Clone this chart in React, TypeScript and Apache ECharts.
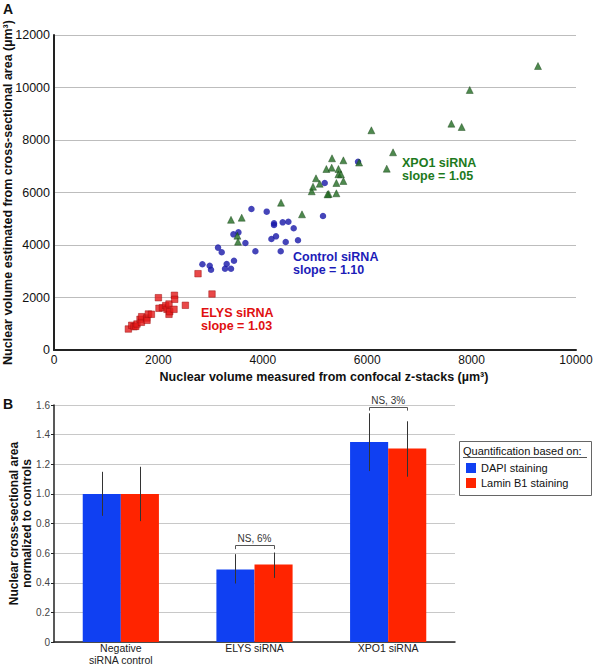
import React, { useEffect, useRef } from "react";
import * as echarts from "echarts";

// ---- Panel A: scatter data [measured volume, estimated volume] (µm³) ----
const elysPoints: number[][] = [
  [1425, 800], [1489, 941], [1533, 888], [1567, 902], [1590, 990], [1648, 1169],
  [1674, 1055], [1680, 1269], [1776, 1219], [1782, 1131], [1808, 1371], [1866, 1360],
  [2000, 1992], [2011, 1589], [2077, 1611], [2140, 1688], [2165, 1550], [2203, 1752],
  [2203, 1360], [2217, 1459], [2299, 1550], [2307, 2084], [2312, 1931], [2517, 1703],
  [2759, 2907], [3027, 2133],
];
const controlPoints: number[][] = [
  [2843, 3265], [2983, 3211], [3008, 3059], [3142, 3900], [3213, 3722], [3276, 3097],
  [3308, 3276], [3391, 3097], [3448, 3402], [3437, 4407], [3533, 4483], [3667, 4076],
  [3782, 5370], [3858, 3760], [4075, 5269], [4165, 4229], [4215, 4826], [4215, 4762],
  [4253, 4331], [4343, 3760], [4381, 4864], [4490, 4888], [4439, 4114], [4592, 4636],
  [4674, 4179], [5153, 5105], [5186, 6362], [5824, 7173],
];
const xpo1Points: number[][] = [
  [3391, 4960], [3596, 5040], [3513, 4354], [3525, 4126], [4349, 5611], [4751, 5169],
  [4937, 6046], [4962, 6221], [5019, 6541], [5090, 6335], [5218, 6895], [5262, 5943],
  [5240, 5930], [5320, 6945], [5326, 7303], [5410, 6362], [5410, 5970], [5449, 6895],
  [5448, 6693], [5498, 6693], [5544, 7226], [5544, 6438], [5845, 7140], [6080, 8370],
  [6374, 6907], [6495, 7531], [7613, 8621], [7810, 8495], [7964, 9905], [9272, 10819],
];

// ---- Panel B: bar data ----
const barCategories = ["Negative\nsiRNA control", "ELYS siRNA", "XPO1 siRNA"];
const dapiValues = [1.0, 0.49, 1.35];
const dapiLow = [0.852, 0.395, 1.154];
const dapiHigh = [1.149, 0.593, 1.544];
const laminValues = [1.0, 0.523, 1.307];
const laminLow = [0.816, 0.433, 1.116];
const laminHigh = [1.183, 0.604, 1.49];
const bracketCats = [1, 2];
const bracketTop = [0.654, 1.589];
const bracketLow = [0.627, 1.562];
const bracketLabels = ["NS, 6%", "NS, 3%"];

const FONT = "'Liberation Sans', Arial, sans-serif";
const BLUE_BAR = "#1040f2";
const RED_BAR = "#ff2400";
const BAR_GAP_FRAC = 0.43;

export default function App() {
  const ref = useRef<HTMLDivElement>(null);

  useEffect(() => {
    if (!ref.current) return;
    const chart = echarts.init(ref.current, undefined, { renderer: "svg" });

    const errData: number[][] = [];
    for (let i = 0; i < barCategories.length; i++) {
      errData.push([i, dapiLow[i], dapiHigh[i], 0]);
      errData.push([i, laminLow[i], laminHigh[i], 1]);
    }
    const bracketData = bracketCats.map((c, i) => [c, bracketLow[i], bracketTop[i]]);

    const annot = (x: number, y: number, l1: string, l2: string, color: string) => [
      { type: "text", left: x, top: y, style: { text: l1, font: `bold 12.5px ${FONT}`, fill: color } },
      { type: "text", left: x, top: y + 13, style: { text: l2, font: `bold 12.5px ${FONT}`, fill: color } },
    ];

    const option: any = {
      animation: false,
      backgroundColor: "#ffffff",
      textStyle: { fontFamily: FONT },
      grid: [
        { left: 54, top: 35, width: 522, height: 315, outerBoundsMode: "none", containLabel: false },
        { left: 54, top: 405, width: 401, height: 237, outerBoundsMode: "none", containLabel: false },
      ],
      xAxis: [
        {
          gridIndex: 0,
          type: "value",
          min: 0,
          max: 10000,
          interval: 2000,
          name: "Nuclear volume measured from confocal z-stacks (µm³)",
          nameLocation: "middle",
          nameGap: 20,
          nameMoveOverlap: false,
          nameTextStyle: { fontFamily: FONT, fontSize: 12.5, fontWeight: "bold", color: "#111", padding: [0, 0, 0, 18] },
          axisLine: { show: true, lineStyle: { color: "#222", width: 2 } },
          axisTick: { show: false },
          axisLabel: { fontFamily: FONT, fontSize: 12, color: "#111", margin: 4, formatter: (v: number) => String(v) },
          splitLine: { show: false },
        },
        {
          gridIndex: 1,
          type: "category",
          data: barCategories,
          axisLine: { show: true, lineStyle: { color: "#222", width: 1.5 } },
          axisTick: { show: false },
          axisLabel: { fontFamily: FONT, fontSize: 10.5, color: "#222", margin: 0, lineHeight: 12 },
        },
      ],
      yAxis: [
        {
          gridIndex: 0,
          type: "value",
          min: 0,
          max: 12000,
          interval: 2000,
          name: "Nuclear volume estimated from cross-sectional area (µm³)",
          nameLocation: "middle",
          nameGap: 40,
          nameMoveOverlap: false,
          nameTextStyle: { fontFamily: FONT, fontSize: 12.5, fontWeight: "bold", color: "#111" },
          axisLine: { show: true, lineStyle: { color: "#222", width: 2 } },
          axisTick: { show: false },
          axisLabel: { fontFamily: FONT, fontSize: 12.5, color: "#111", margin: 4, formatter: (v: number) => String(v) },
          splitLine: { show: true, lineStyle: { color: "#bdbdbd", width: 1 } },
        },
        {
          gridIndex: 1,
          type: "value",
          min: 0,
          max: 1.6,
          interval: 0.2,
          name: "Nuclear cross-sectional area\nnormalized to controls",
          nameLocation: "middle",
          nameGap: 20,
          nameMoveOverlap: false,
          nameTextStyle: { fontFamily: FONT, fontSize: 12, fontWeight: "bold", color: "#111", lineHeight: 13.5 },
          axisLine: { show: true, lineStyle: { color: "#222", width: 1.5 } },
          axisTick: { show: true, length: 3, lineStyle: { color: "#222" } },
          axisLabel: {
            fontFamily: FONT,
            fontSize: 10,
            color: "#444",
            margin: 4,
            formatter: (v: number) => (v === 0 ? "0" : v.toFixed(1)),
          },
          splitLine: { show: true, lineStyle: { color: "#c8c8c8", width: 1 } },
        },
      ],
      legend: {
        data: ["DAPI staining", "Lamin B1 staining"],
        orient: "vertical",
        left: 466,
        top: 462,
        padding: 0,
        itemWidth: 10,
        itemHeight: 10,
        itemGap: 3,
        icon: "rect",
        textStyle: { fontFamily: FONT, fontSize: 11, color: "#111", lineHeight: 12 },
      },
      graphic: [
        { type: "text", left: 3, top: 2, style: { text: "A", font: `bold 14px ${FONT}`, fill: "#111" } },
        { type: "text", left: 3, top: 397, style: { text: "B", font: `bold 14px ${FONT}`, fill: "#111" } },
        ...annot(402, 156, "XPO1 siRNA", "slope = 1.05", "#1d7a1d"),
        ...annot(293, 250, "Control siRNA", "slope = 1.10", "#1c1cb8"),
        ...annot(201, 306, "ELYS siRNA", "slope = 1.03", "#e01010"),
        {
          type: "rect",
          shape: { x: 459.5, y: 441.5, width: 132, height: 54 },
          style: { fill: "#fff", stroke: "#666", lineWidth: 1 },
          z: -1,
        },
        {
          type: "text", left: 463, top: 445,
          style: { text: "Quantification based on:", font: `11px ${FONT}`, fill: "#111" },
        },
        {
          type: "line",
          shape: { x1: 463, y1: 457.5, x2: 587, y2: 457.5 },
          style: { stroke: "#555", lineWidth: 1 },
        },
      ],
      series: [
        {
          name: "ELYS siRNA",
          type: "scatter",
          xAxisIndex: 0,
          yAxisIndex: 0,
          symbol: "rect",
          symbolSize: 6.5,
          itemStyle: { color: "#e31a1a", borderColor: "#9a0d0d", borderWidth: 0.6 },
          data: elysPoints,
        },
        {
          name: "Control siRNA",
          type: "scatter",
          xAxisIndex: 0,
          yAxisIndex: 0,
          symbol: "circle",
          symbolSize: 6.5,
          itemStyle: { color: "#1717a8" },
          data: controlPoints,
        },
        {
          name: "XPO1 siRNA",
          type: "scatter",
          xAxisIndex: 0,
          yAxisIndex: 0,
          symbol: "triangle",
          symbolSize: 7,
          itemStyle: { color: "#226b22", borderColor: "#0f3d0f", borderWidth: 0.5 },
          data: xpo1Points,
        },
        {
          name: "DAPI staining",
          type: "bar",
          xAxisIndex: 1,
          yAxisIndex: 1,
          barGap: "0%",
          barCategoryGap: `${BAR_GAP_FRAC * 100}%`,
          itemStyle: { color: BLUE_BAR },
          data: dapiValues,
        },
        {
          name: "Lamin B1 staining",
          type: "bar",
          xAxisIndex: 1,
          yAxisIndex: 1,
          barGap: "0%",
          barCategoryGap: `${BAR_GAP_FRAC * 100}%`,
          itemStyle: { color: RED_BAR },
          data: laminValues,
        },
        {
          name: "error",
          type: "custom",
          xAxisIndex: 1,
          yAxisIndex: 1,
          z: 5,
          data: errData,
          renderItem: (params: any, api: any) => {
            const cat = api.value(0);
            const lo = api.coord([cat, api.value(1)]);
            const hi = api.coord([cat, api.value(2)]);
            const band = api.size([1, 0])[0];
            const bw = (band * (1 - BAR_GAP_FRAC)) / 2;
            const off = (api.value(3) === 0 ? -1 : 1) * (bw / 2);
            const x = Math.round(lo[0] + off) + 0.5;
            return {
              type: "line",
              shape: { x1: x, y1: lo[1], x2: x, y2: hi[1] },
              style: { stroke: "#333", lineWidth: 1 },
            };
          },
        },
        {
          name: "bracket",
          type: "custom",
          xAxisIndex: 1,
          yAxisIndex: 1,
          z: 5,
          data: bracketData,
          renderItem: (params: any, api: any) => {
            const cat = api.value(0);
            const low = api.coord([cat, api.value(1)]);
            const top = api.coord([cat, api.value(2)]);
            const band = api.size([1, 0])[0];
            const bw = (band * (1 - BAR_GAP_FRAC)) / 2;
            const xl = Math.round(low[0] - bw / 2) + 0.5;
            const xr = Math.round(low[0] + bw / 2) + 0.5;
            const yt = Math.round(top[1]) + 0.5;
            return {
              type: "group",
              children: [
                {
                  type: "polyline",
                  shape: { points: [[xl, low[1]], [xl, yt], [xr, yt], [xr, low[1]]] },
                  style: { stroke: "#555", lineWidth: 1, fill: null },
                },
                {
                  type: "text",
                  x: low[0],
                  y: yt - 2,
                  style: {
                    text: bracketLabels[params.dataIndex],
                    font: `10px ${FONT}`,
                    fill: "#333",
                    textAlign: "center",
                    textVerticalAlign: "bottom",
                  },
                },
              ],
            };
          },
        },
      ],
    };

    chart.setOption(option);
    return () => chart.dispose();
  }, []);

  return (
    <div
      ref={ref}
      style={{ position: "fixed", left: 0, top: 0, width: 597, height: 666, background: "#fff" }}
    />
  );
}
